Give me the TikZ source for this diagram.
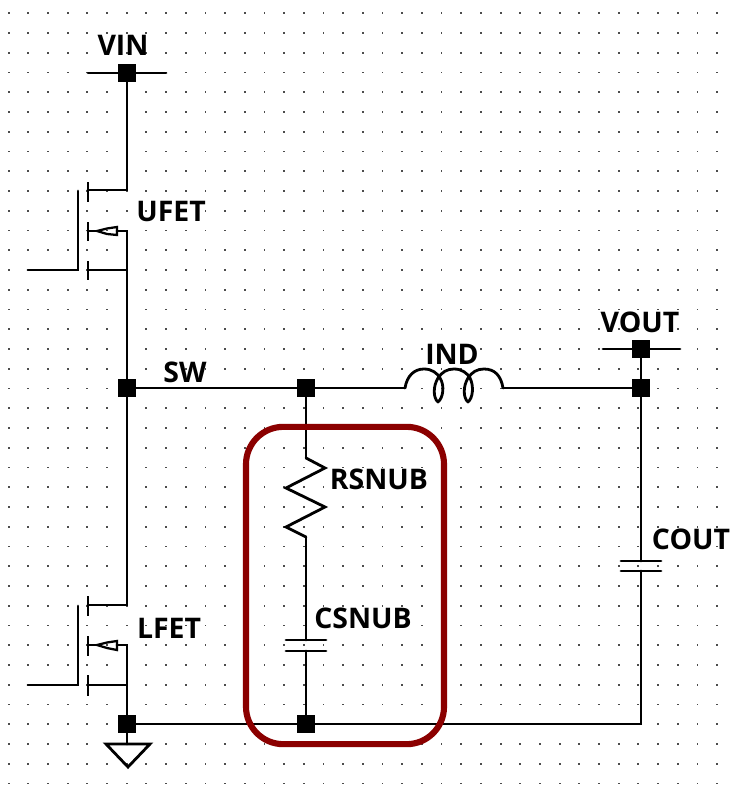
\documentclass[tikz,border=0pt]{standalone}
\usepackage{fontspec}
\setmainfont{Open Sans}
\definecolor{boxred}{RGB}{139,0,0}
\tikzset{
  wire/.style={line width=2.1pt,black,line cap=round},
  plate/.style={line width=2.1pt,black},
  junction/.style={rectangle,fill=black,draw=none,minimum size=12.8pt,inner sep=0pt},
  lbl/.style={font=\fontsize{21.3}{21.3}\selectfont\bfseries,inner sep=0pt,text=black},
  griddot/.style={fill=black!70,draw=none}
}
\begin{document}
\begin{tikzpicture}[x=0.75pt,y=-0.75pt]
\useasboundingbox (0,0) rectangle (738,788);
\fill[white] (0,0) rectangle (738,788);
% grid
\foreach \i in {0,...,36}{
  \foreach \j in {0,...,39}{
    \fill[griddot] ({8.6+19.68*\i-0.9},{13.3+19.75*\j-0.9}) rectangle ++(1.8,1.8);
  }
}
% junctions
\node[junction] (vin) at (127,73) {};
\node[junction] (sw) at (127,388) {};
\node[junction] (mid) at (306,388) {};
\node[junction] (outj) at (641,388) {};
\node[junction] (vout) at (641,349) {};
\node[junction] (gnd) at (127,724) {};
\node[junction] (snubgnd) at (306,724) {};
% free points
\coordinate (vinL) at (88,73); \coordinate (vinR) at (166,73);
\coordinate (voutL) at (603,349); \coordinate (voutR) at (680,349);
% UFET
\coordinate (ud) at (127,190); \coordinate (udp) at (88,190);
\coordinate (us) at (127,231); \coordinate (usp) at (88,231);
\coordinate (ub) at (127,270); \coordinate (ubp) at (88,270);
\coordinate (ugt) at (78,191); \coordinate (ugb) at (78,270); \coordinate (ugl) at (28,270);
\draw[wire] (vinL) -- (vinR);
\draw[wire] (vin) -- (ud) -- (udp);
\draw[wire] (ugl) -- (ugb) -- (ugt);
\draw[plate] (88,182) -- (88,202) (88,222) -- (88,241) (88,261) -- (88,280);
\draw[wire] (usp) -- (97,231);
\draw[line width=1.7pt,black,line join=miter] (97,231) -- (107,228.5) -- (117,227) -- (117,235) -- (107,234) -- cycle;
\draw[wire] (117,231) -- (us) -- (ub) -- (ubp);
\draw[wire] (ub) -- (sw);
% LFET
\coordinate (ld) at (127,605); \coordinate (ldp) at (88,605);
\coordinate (ls) at (127,645); \coordinate (lsp) at (88,645);
\coordinate (lb) at (127,685); \coordinate (lbp) at (88,685);
\coordinate (lgt) at (78,606); \coordinate (lgb) at (78,685); \coordinate (lgl) at (28,685);
\draw[wire] (sw) -- (ld) -- (ldp);
\draw[wire] (lgl) -- (lgb) -- (lgt);
\draw[plate] (88,596) -- (88,616) (88,636) -- (88,656) (88,675) -- (88,696);
\draw[wire] (lsp) -- (97,645);
\draw[line width=1.7pt,black,line join=miter] (97,645) -- (107,642.5) -- (117,641) -- (117,650) -- (107,648) -- cycle;
\draw[wire] (117,645) -- (ls) -- (lb) -- (lbp);
\draw[wire] (lb) -- (gnd);
% ground
\coordinate (gtop) at (127,744);
\draw[wire] (gnd) -- (gtop);
\draw[wire,line join=miter] (106,744) -- (150,744) -- (128,767) -- cycle;
% main rail
\draw[wire] (sw) -- (mid);
\coordinate (indL) at (405,388); \coordinate (indR) at (503,388);
\draw[wire] (mid) -- (indL);
\draw[wire,line join=round] (indL) .. controls (407,376) and (414,369) .. (424,369)
  .. controls (432,369) and (437,373) .. (440,378)
  .. controls (445,386) and (443,398) .. (438,402)
  .. controls (433,398) and (433,386) .. (438,378)
  .. controls (442,372) and (447,369) .. (454,369)
  .. controls (462,369) and (467,373) .. (470,378)
  .. controls (474,386) and (473,398) .. (468,402)
  .. controls (463,398) and (463,386) .. (468,378)
  .. controls (472,372) and (477,369) .. (484,369)
  .. controls (495,369) and (501,376) .. (indR);
\draw[wire] (indR) -- (outj);
\draw[wire] (vout) -- (outj);
\draw[wire] (voutL) -- (voutR);
% COUT
\coordinate (cot) at (641,561); \coordinate (cob) at (641,571);
\draw[wire] (outj) -- (cot);
\draw[wire] (621,561) -- (661,561) (621,571) -- (661,571);
\coordinate (corner) at (641,724);
\draw[wire] (cob) -- (corner) -- (snubgnd) -- (gnd);
% snubber
\coordinate (rt) at (306,458); \coordinate (rb) at (306,537);
\draw[wire] (mid) -- (rt);
\draw[wire,line join=miter] (rt) -- (325,468) -- (286,488) -- (325,507) -- (286,527) -- (rb);
\coordinate (cst) at (306,640); \coordinate (csb) at (306,651);
\draw[wire] (rb) -- (cst);
\draw[wire] (286,640) -- (326,640) (286,651) -- (326,651);
\draw[wire] (csb) -- (snubgnd);
% highlight
\node[draw=boxred,line width=4.6pt,rounded corners=28pt,minimum width=148.5pt,minimum height=238pt,inner sep=0pt] (highlight) at (345,585.5) {};
% labels
\node[lbl] (tvin) at (123,45) {VIN};
\node[lbl] (tufet) at (171,212) {UFET};
\node[lbl] (tsw) at (185,372) {SW};
\node[lbl] (tind) at (452,354) {IND};
\node[lbl] (tvout) at (640,322) {VOUT};
\node[lbl] (trs) at (379,479) {RSNUB};
\node[lbl] (tcs) at (363,618) {CSNUB};
\node[lbl] (tcout) at (691,539) {COUT};
\node[lbl] (tlfet) at (169,628) {LFET};
\end{tikzpicture}
\end{document}
